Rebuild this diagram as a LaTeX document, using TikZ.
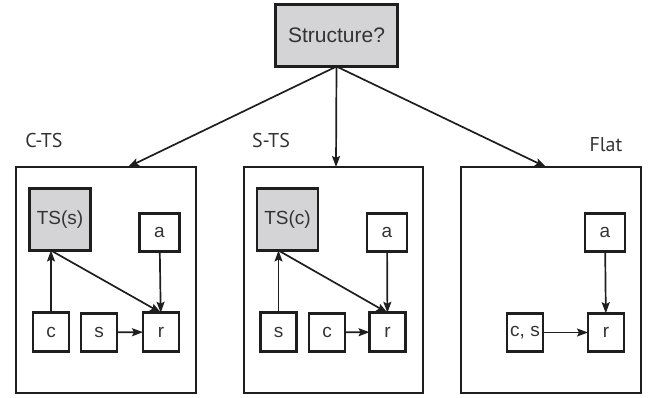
\documentclass[tikz,border=0pt]{standalone}
\usepackage{fontspec}
\setmainfont{Liberation Sans}
\newfontfamily\labfont{PT Sans}
\usetikzlibrary{arrows.meta}
\definecolor{boxgray}{HTML}{D4D4D6}
\definecolor{txt}{HTML}{333333}
\definecolor{ln}{HTML}{1E1E1E}
\begin{document}
\begin{tikzpicture}[x=1pt,y=-1pt,
  every node/.style={inner sep=0pt,outer sep=0pt,text=txt},
  sbox/.style={draw=ln,line width=2.8pt,minimum width=36pt,minimum height=38.5pt,font=\fontsize{19}{19}\selectfont},
  tsbox/.style={sbox,fill=boxgray,minimum width=61pt,minimum height=62pt},
  panel/.style={draw=ln,line width=2.2pt},
  arr/.style={-{Stealth[length=11pt,width=8pt,inset=2pt]},line width=1.7pt,draw=ln},
  lab/.style={font=\labfont\fontsize{20}{20}\selectfont}]
\useasboundingbox (0,0) rectangle (648,398);
% top
\node[draw=ln,line width=2.8pt,fill=boxgray,minimum width=122pt,minimum height=62pt,font=\fontsize{21}{21}\selectfont] (top) at (336.5,35.5) {Structure?};
% panels
\draw[panel] (16,167) rectangle (196,393);
\draw[panel] (244,167) rectangle (423,393);
\draw[panel] (461,167) rectangle (641,393);
\coordinate (p1) at (128,167);
\coordinate (p2) at (336,167);
\coordinate (p3) at (546,167);
\draw[arr] (top.south) -- (p1);
\draw[arr] (top.south) -- (p2);
\draw[arr] (top.south) -- (p3);
% labels
\node[lab] (l1) at (44,141) {C-TS};
\node[lab] (l2) at (271,141) {S-TS};
\node[lab] (l3) at (606,145) {Flat};
% panel 1
\node[tsbox] (ts1) at (60,219.5) {TS(s)};
\node[sbox,minimum width=40pt] (a1) at (159.5,232.5) {a};
\node[sbox] (c1) at (51,332) {c};
\node[sbox] (s1) at (99,332.5) {s};
\node[sbox] (r1) at (161,332) {r};
\coordinate (t1) at (ts1.south -| c1);
\draw[arr] (c1) -- (t1);
\draw[arr] (t1) -- (r1.north);
\draw[arr] (a1) -- (r1);
\draw[arr] (s1) -- (r1);
% panel 2
\node[tsbox] (ts2) at (287.5,219.5) {TS(c)};
\node[sbox,minimum width=40pt] (a2) at (387,232.5) {a};
\node[sbox] (s2) at (278.5,332) {s};
\node[sbox] (c2) at (327,332.5) {c};
\node[sbox] (r2) at (387.5,332) {r};
\coordinate (t2) at (ts2.south -| s2);
\draw[arr] (s2) -- (t2);
\draw[arr] (t2) -- (r2.north);
\draw[arr] (a2) -- (r2);
\draw[arr] (c2) -- (r2);
% panel 3
\node[sbox,minimum width=40pt] (a3) at (605,232.5) {a};
\node[sbox] (cs3) at (525,332.5) {c, s};
\node[sbox] (r3) at (606,332.5) {r};
\draw[arr] (a3) -- (r3);
\draw[arr] (cs3) -- (r3);
\end{tikzpicture}
\end{document}
